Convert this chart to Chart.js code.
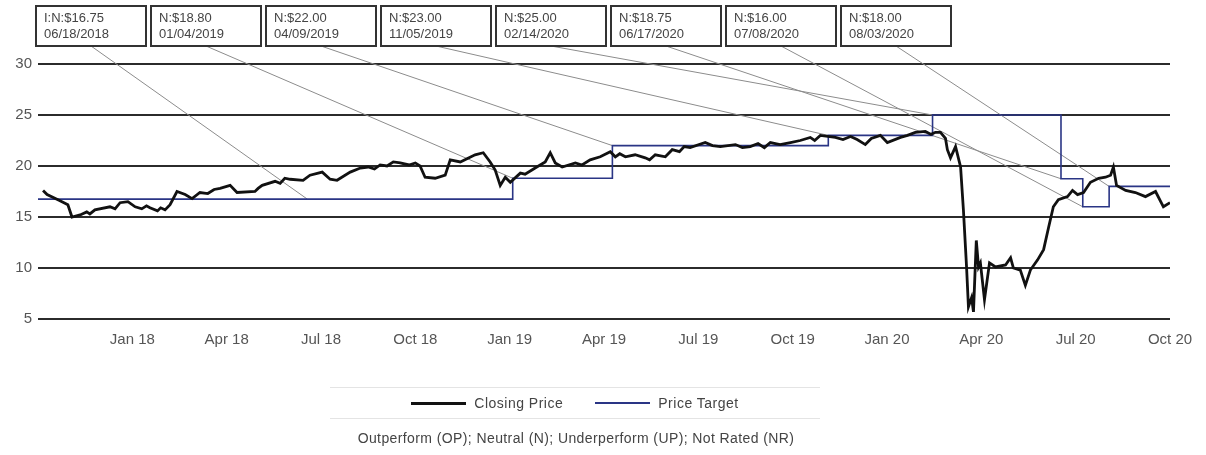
<!DOCTYPE html>
<html>
<head>
<meta charset="utf-8">
<title>Closing Price / Price Target</title>
<script src="https://cdn.jsdelivr.net/npm/chart.js@4.4.1/dist/chart.umd.min.js"></script>
<style>
    body { margin: 0; background: #fff; font-family: "Liberation Sans", Arial, sans-serif; }
    #contenedor { position: relative; width: 1206px; height: 455px; }
    #leyenda {
        position: absolute; left: 330px; top: 387px; width: 490px; height: 30px;
        border-top: 1px solid #e4e4e4; border-bottom: 1px solid #e4e4e4;
        display: flex; justify-content: center; align-items: center;
        font-size: 14px; letter-spacing: 0.5px; color: #444;
    }
    .item { display: flex; align-items: center; margin: 0 16px; }
    .linea { width: 55px; height: 0; margin-right: 8px; }
    #nota {
        position: absolute; top: 430px; left: 0; width: 1152px;
        text-align: center; font-size: 14px; letter-spacing: 0.4px; color: #444;
    }
</style>
</head>
<body>
<div id="contenedor">
    <canvas id="GraficoPrecio" width="1206" height="455"></canvas>
    <div id="leyenda">
        <div class="item"><span class="linea" style="border-top: 3px solid #111;"></span>Closing Price</div>
        <div class="item"><span class="linea" style="border-top: 2px solid #2a3585;"></span>Price Target</div>
    </div>
    <div id="nota">Outperform (OP); Neutral (N); Underperform (UP); Not Rated (NR)</div>
</div>

<script>
// eje X en meses contados desde el 1 de octubre de 2017 (Oct 17 .. Oct 20)
const etiquetasX = ['Jan 18', 'Apr 18', 'Jul 18', 'Oct 18', 'Jan 19', 'Apr 19',
                    'Jul 19', 'Oct 19', 'Jan 20', 'Apr 20', 'Jul 20', 'Oct 20'];

const mesesCierre = [
    0.16, 0.29, 0.70, 0.95, 1.08, 1.34, 1.55, 1.65, 1.81, 2.29, 2.45, 2.61, 2.86, 3.09,
    3.30, 3.45, 3.56, 3.80, 3.90, 4.04, 4.20, 4.42, 4.68, 4.90, 5.15, 5.40, 5.60, 5.79,
    6.11, 6.33, 6.90, 7.00, 7.13, 7.54, 7.70, 7.85, 8.02, 8.43, 8.65, 9.04, 9.29, 9.51,
    9.93, 10.25, 10.50, 10.70, 10.88, 11.10, 11.30, 11.52, 11.80, 12.00, 12.15, 12.31,
    12.63, 12.95, 13.11, 13.43, 13.90, 14.16, 14.38, 14.54, 14.70, 14.86, 15.02, 15.34,
    15.49, 15.81, 16.13, 16.29, 16.45, 16.67, 17.09, 17.30, 17.56, 17.88, 18.20, 18.36,
    18.50, 18.68, 18.99, 19.31, 19.45, 19.63, 19.95, 20.17, 20.40, 20.55, 20.74, 21.22,
    21.45, 21.70, 22.18, 22.40, 22.65, 22.90, 23.10, 23.29, 23.60, 23.93, 24.24, 24.56,
    24.70, 24.88, 25.36, 25.60, 25.84, 26.05, 26.31, 26.50, 26.79, 27.01, 27.43, 27.65,
    27.90, 28.22, 28.40, 28.54, 28.70, 28.86, 28.92, 29.02, 29.18, 29.34, 29.43, 29.53,
    29.59, 29.69, 29.75, 29.84, 29.91, 29.97, 30.10, 30.26, 30.45, 30.77, 30.93, 31.02,
    31.24, 31.40, 31.56, 31.79, 31.98, 32.14, 32.29, 32.45, 32.74, 32.90, 33.06, 33.25,
    33.47, 33.73, 33.95, 34.11, 34.20, 34.30, 34.59, 34.90, 35.22, 35.54, 35.79, 36.00
];

const precioCierre = [
    17.6, 17.2, 16.6, 16.2, 15.0, 15.2, 15.5, 15.3, 15.7, 16.0, 15.8, 16.4, 16.5, 16.0,
    15.8, 16.1, 15.9, 15.6, 15.9, 15.7, 16.2, 17.5, 17.2, 16.8, 17.4, 17.3, 17.7, 17.8,
    18.1, 17.4, 17.5, 17.8, 18.1, 18.5, 18.3, 18.8, 18.7, 18.6, 19.1, 19.4, 18.7, 18.6,
    19.4, 19.8, 19.9, 19.7, 20.1, 20.0, 20.4, 20.3, 20.1, 20.3, 20.0, 18.9,
    18.8, 19.1, 20.6, 20.4, 21.1, 21.3, 20.4, 19.6, 18.1, 18.9, 18.4, 19.3,
    19.2, 19.8, 20.4, 21.3, 20.3, 19.9, 20.3, 20.1, 20.6, 20.9, 21.4, 20.9,
    21.2, 20.9, 21.1, 20.8, 20.6, 21.1, 20.9, 21.6, 21.4, 21.9, 21.8, 22.3,
    22.0, 21.9, 22.1, 21.8, 21.9, 22.2, 21.8, 22.3, 22.1, 22.3, 22.5, 22.8,
    22.5, 23.0, 22.8, 22.6, 22.9, 22.6, 22.1, 22.7, 23.0, 22.3, 22.8, 23.0,
    23.3, 23.4, 23.1, 23.3, 23.3, 22.7, 21.6, 20.8, 21.9, 19.9, 15.7, 10.1,
    6.2, 7.1, 5.7, 12.7, 10.1, 10.5, 6.9, 10.5, 10.1, 10.3, 11.0, 10.0,
    9.8, 8.3, 9.8, 10.8, 11.8, 14.0, 16.0, 16.7, 17.0, 17.6, 17.2, 17.4,
    18.4, 18.8, 18.9, 19.1, 19.9, 18.1, 17.6, 17.4, 17.0, 17.5, 16.0, 16.4
];

// cambios de rating / precio objetivo
const codigosRating = ['I:N', 'N', 'N', 'N', 'N', 'N', 'N', 'N'];
const fechasRating = ['06/18/2018', '01/04/2019', '04/09/2019', '11/05/2019',
                      '02/14/2020', '06/17/2020', '07/08/2020', '08/03/2020'];
const preciosObjetivo = [16.75, 18.80, 22.00, 23.00, 25.00, 18.75, 16.00, 18.00];

function MesesDesdeInicio(fecha) {
    let partes = fecha.split('/').map(Number);
    let diasMes = new Date(partes[2], partes[0], 0).getDate();
    return (partes[2] - 2017) * 12 + (partes[0] - 10) + (partes[1] - 1) / diasMes;
}

let datosCierre = mesesCierre.map(function (m, i) {
    return { x: m, y: precioCierre[i] };
});

// escalones del precio objetivo: arranca con el primero y cambia en cada fecha
let datosObjetivo = [{ x: 0, y: preciosObjetivo[0] }];
for (let i = 1; i < preciosObjetivo.length; i++) {
    datosObjetivo.push({ x: MesesDesdeInicio(fechasRating[i]), y: preciosObjetivo[i] });
}
datosObjetivo.push({ x: 36, y: preciosObjetivo[preciosObjetivo.length - 1] });

const fuente = '"Liberation Sans", Arial, sans-serif';

// cajas con el rating arriba y su linea hasta el punto del objetivo
const cajasRating = {
    id: 'cajasRating',
    beforeDatasetsDraw(chart) {
        const ctx = chart.ctx;
        const ejeX = chart.scales.x;
        const ejeY = chart.scales.y;
        ctx.save();
        ctx.strokeStyle = '#8c8c8c';
        ctx.lineWidth = 1;
        codigosRating.forEach(function (codigo, i) {
            let izq = 36 + i * 115;
            ctx.beginPath();
            ctx.moveTo(izq + 55, 46);
            ctx.lineTo(ejeX.getPixelForValue(MesesDesdeInicio(fechasRating[i])),
                       ejeY.getPixelForValue(preciosObjetivo[i]));
            ctx.stroke();
        });
        ctx.restore();
    },
    afterDraw(chart) {
        const ctx = chart.ctx;
        ctx.save();
        codigosRating.forEach(function (codigo, i) {
            let izq = 36 + i * 115;
            ctx.fillStyle = '#fff';
            ctx.fillRect(izq, 6, 110, 40);
            ctx.strokeStyle = '#333';
            ctx.lineWidth = 2;
            ctx.strokeRect(izq, 6, 110, 40);
            ctx.fillStyle = '#444';
            ctx.font = '13px ' + fuente;
            ctx.textBaseline = 'middle';
            ctx.fillText(codigo + ':$' + preciosObjetivo[i].toFixed(2), izq + 8, 18);
            ctx.fillText(fechasRating[i], izq + 8, 34);
        });
        ctx.restore();
    }
};

const ctx = document.getElementById('GraficoPrecio');
let graficoPrecio = new Chart(ctx, {
    type: 'line',
    data: {
        datasets: [{
            label: 'Closing Price',
            data: datosCierre,
            borderColor: '#111',
            borderWidth: 2.8,
            pointRadius: 0,
            tension: 0,
        }, {
            label: 'Price Target',
            data: datosObjetivo,
            borderColor: '#2a3585',
            borderWidth: 1.6,
            pointRadius: 0,
            stepped: 'before',
        }]
    },
    options: {
        responsive: false,
        animation: false,
        devicePixelRatio: 1,
        layout: { padding: { top: 64, right: 36, left: 0, bottom: 106 } },
        plugins: {
            legend: { display: false },
            tooltip: { enabled: false },
        },
        scales: {
            x: {
                type: 'linear',
                min: 0,
                max: 36,
                grid: { display: false, drawTicks: false },
                border: { display: false },
                afterFit: function (escala) { escala.height = 30; },
                ticks: {
                    stepSize: 3,
                    autoSkip: false,
                    maxRotation: 0,
                    padding: 12,
                    color: '#555',
                    font: { family: fuente, size: 15 },
                    callback: function (valor) {
                        return valor === 0 ? null : etiquetasX[valor / 3 - 1];
                    }
                }
            },
            y: {
                min: 5,
                max: 30,
                grid: { color: '#2b2b2b', lineWidth: 2, drawTicks: false },
                border: { display: false },
                afterFit: function (escala) { escala.width = 38; },
                ticks: {
                    stepSize: 5,
                    padding: 6,
                    color: '#555',
                    font: { family: fuente, size: 15 },
                }
            }
        }
    },
    plugins: [cajasRating]
});
</script>
</body>
</html>
